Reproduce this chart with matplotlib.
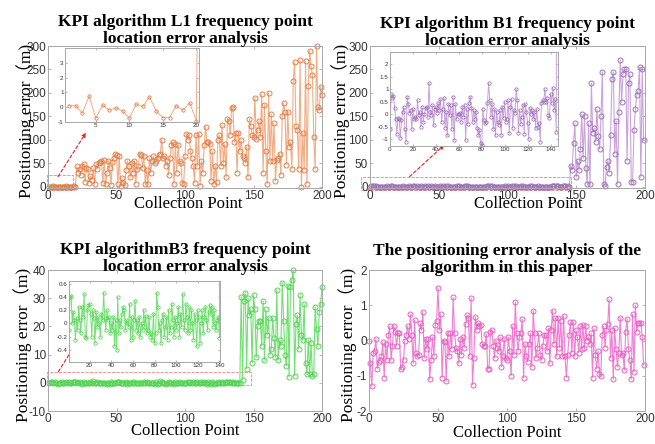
import numpy as np
import matplotlib
matplotlib.use('Agg')
import matplotlib.pyplot as plt
from matplotlib.ticker import FormatStrFormatter
from matplotlib.patches import Rectangle

# ---- L1 (points 1..200): first 20 small, rest large
L1_small = [0.1, 0.1, -0.4, 0.75, -0.75, 0.15, -0.2, -0.05, -0.25, -0.75,
            0.2, 0.05, 0.7, -0.25, -0.7, -0.7, 0.1, -0.2, 0.3, -0.9]
L1_large = [43, 30, 38, 25, 45, 48, 10, 40, 37, 8,
            22, 15, 40, 5, 48, 38, 50, 52, 55, 8,
            57, 6, 28, 55, 40, 3, 52, 60, 70, 67,
            5, 65, 2, 18, 8, 4, 35, 55, 45, 20,
            50, 30, 55, 6, 38, 45, 70, 68, 40, 66,
            5, 35, 5, 60, 30, 55, 65, 50, 55, 62,
            67, 70, 100, 60, 65, 45, 55, 25, 60, 88,
            95, 5, 90, 30, 88, 55, 50, 8, 5, 65,
            113, 100, 110, 75, 60, 45, 8, 110, 45, 112,
            2, 55, 30, 88, 128, 95, 96, 90, 12, 75,
            5, 45, 10, 100, 110, 45, 132, 50, 90, 20,
            145, 140, 110, 168, 170, 95, 115, 30, 115, 75,
            100, 65, 60, 50, 85, 20, 145, 130, 110, 105,
            190, 102, 120, 140, 105, 197, 30, 175, 75, 5,
            200, 55, 155, 55, 135, 12, 57, 60, 70, 25,
            150, 178, 160, 47, 160, 85, 95, 37, 225, 265,
            130, 120, 38, 270, 0, 115, 35, 267, 5, 215,
            290, 257, 238, 105, 37, 300, 170, 163, 213, 195]

# ---- B1 (points 0..199): first 146 small, rest large
B1_small = [-0.6, 0.8, 0.65, 0.75, 0.25, -0.2, -0.8, -0.15, -0.2, -0.95,
            -0.25, 0.1, 0.3, -0.6, -1.1, 0.7, 0.4, 0.05, 0.15, -0.6,
            0.2, -0.2, -0.1, -0.2, 0.55, -0.05, 0.1, -0.5, 0.3, -0.3,
            0.0, 0.25, 0.3, -0.1, 1.25, 0.1, -0.05, 0.35, -0.45, 0.2,
            0.3, 0.05, 0.45, 0.15, 0.6, -0.3, 0.2, 0.65, -0.55, 0.1,
            -0.85, 0.4, -0.05, 0.35, -0.6, 0.7, -1.05, 0.4, -0.2, 0.0,
            0.0, 0.05, -0.3, 0.3, -0.1, 0.35, -1.05, 0.2, -0.4, 0.45,
            0.7, 0.25, -0.3, 0.15, -0.2, 0.1, -0.55, -0.85, -0.65, -1.15,
            -1.25, 0.2, -0.25, -0.35, -0.3, 0.45, 1.25, 0.55, -0.1, 0.4,
            -0.6, 0.2, -0.85, 0.1, -0.3, -0.45, 0.15, -0.85, 0.3, -0.15,
            0.5, -0.3, -0.2, 0.55, -0.75, 0.3, 0.6, -0.55, 0.15, 0.05,
            1.0, 0.55, -0.75, 0.15, -0.4, -0.1, 0.35, -0.8, 0.4, 0.1,
            -0.35, -1.0, 0.25, 0.0, 0.15, -0.2, 0.1, -0.55, 0.2, -0.5,
            -0.35, -1.1, 0.45, 0.55, 0.5, 1.0, 0.5, 0.65, -0.05, -0.15,
            0.8, 0.45, 1.05, 0.15, 0.6, -0.7]
B1_large = [45, 35, 92, 135, 20, 55, 35, 80, 155, 60,
            150, 40, 5, 135, 5, 220, 115, 125, 95, 165,
            108, 80, 150, 245, 5, 2, 42, 55, 30, 110,
            230, 245, 70, 140, 5, 160, 270, 180, 240, 250,
            250, 55, 220, 240, 10, 10, 120, 165, 195, 205,
            255, 20, 250, 100]

# ---- B3 (points 1..200): first 140 small, rest large
B3_small = [-0.1, 0.4, 0.42, 0.0, 0.18, 0.05, -0.25, 0.08, -0.1, 0.25,
            0.05, -0.15, 0.25, 0.1, 0.45, -0.2, -0.22, 0.2, 0.28, 0.3,
            0.15, -0.2, 0.2, 0.08, -0.3, 0.18, -0.05, 0.1, 0.0, -0.2,
            0.15, 0.05, 0.47, 0.08, -0.1, 0.2, 0.05, 0.1, -0.15, 0.0,
            -0.1, 0.1, -0.35, 0.05, -0.4, 0.4, -0.15, 0.05, -0.05, 0.15,
            0.25, 0.2, -0.1, 0.05, 0.0, -0.05, 0.3, -0.25, 0.1, -0.2,
            0.05, 0.35, -0.1, 0.05, -0.15, 0.1, -0.2, 0.0, -0.1, 0.2,
            -0.05, 0.12, -0.15, -0.1, 0.1, -0.2, -0.15, -0.25, 0.15, -0.3,
            -0.15, 0.47, 0.25, -0.1, 0.0, -0.3, 0.05, 0.15, -0.2, -0.05,
            0.1, -0.25, 0.2, -0.15, -0.05, 0.3, 0.05, -0.2, 0.1, -0.1,
            0.0, 0.25, -0.2, 0.15, -0.05, 0.45, 0.05, -0.1, 0.3, 0.1,
            -0.15, 0.25, -0.1, 0.2, 0.0, -0.25, 0.15, 0.05, -0.35, 0.2,
            0.1, -0.3, 0.0, 0.2, -0.15, 0.1, 0.25, 0.05, -0.1, 0.18,
            0.28, 0.15, 0.25, -0.05, 0.2, 0.0, -0.1, 0.05, 0.1, -0.22]
B3_large = [30.5, 1, 29, 32, 5, 30, 24, 26, 7, 31,
            26, 9, 20, 22, 22, 13, 29, 8, 26, 17,
            23, 10, 12, 23, 16, 9, 33, 8, 15, 13,
            35.5, 22, 10, 6, 34.5, 2, 34, 36.5, 40, 2.5,
            21, 24, 12, 31, 17, 15, 28, 7, 3, 15,
            3, 14, 2.5, 3, 27, 19, 13, 25, 28, 34]

# ---- proposed algorithm (points 0..199)
paper = [0.0, -0.65, -1.3, -0.35, -0.3, 0.05, -0.8, -0.6, -0.55, -0.45,
         -0.05, -1.05, -0.1, -0.55, 0.15, 0.4, -0.55, -0.15, 0.42, 0.25,
         -0.15, 0.2, 0.2, -0.8, -0.75, -0.55, 0.0, 0.15, 0.4, 0.05,
         0.75, 0.15, -0.65, 0.58, -0.35, -0.45, -0.4, 0.5, 0.3, 0.82,
         -0.5, 0.05, -0.25, 0.05, -1.1, -0.55, 0.1, -0.45, 0.45, 0.55,
         1.5, 0.3, 0.75, -1.05, 0.0, -0.05, -1.15, 0.2, -0.45, 0.2,
         -0.25, 1.22, 0.22, -0.2, -0.3, -0.65, 0.05, -0.4, 0.1, -0.2,
         0.48, 0.72, 0.65, -0.45, 1.2, -1.25, -0.5, 0.68, 0.3, 0.5,
         0.4, 0.45, -0.1, -0.15, -0.15, 0.18, -0.8, -0.8, 0.25, 0.3,
         -0.15, -0.5, 0.0, -0.2, -0.3, 0.1, -0.75, -0.45, 0.05, -0.5,
         -0.55, 0.1, -0.3, -1.0, 0.4, -0.4, 1.1, 0.22, -0.3, 0.1,
         0.2, 0.6, -1.05, -0.1, -0.45, -0.6, -0.1, 0.2, -0.75, 0.85,
         0.2, -0.5, -0.2, 0.2, -0.4, -0.55, -0.15, 0.15, 0.15, -0.3,
         0.35, -0.65, 0.3, 0.85, -0.1, 0.65, -0.45, 0.65, -0.2, 0.55,
         -0.45, 0.7, -0.45, -1.05, -0.4, 0.15, 0.52, -0.35, 0.52, -0.45,
         0.3, 0.1, -0.35, 0.4, -0.25, 0.45, -0.2, 0.4, 0.0, 0.1,
         -0.1, 0.2, -1.05, 0.35, -0.4, -0.8, -0.3, -0.95, -1.0, 0.15,
         0.4, -0.2, 0.3, 0.48, 1.18, -0.5, 0.3, -1.1, 0.35, -0.25,
         -0.75, -0.35, 0.65, -0.4, -0.35, -0.85, 0.25, 0.62, -0.25, -0.55,
         -1.1, 0.75, -0.9, 1.0, 0.25, 0.5, 0.5, 0.5, 0.1, -0.7]

L1 = L1_small + L1_large
B1 = B1_small + B1_large
B3 = B3_small + B3_large
x_L1 = np.arange(1, len(L1) + 1)
x_B1 = np.arange(0, len(B1))
x_B3 = np.arange(1, len(B3) + 1)
x_paper = np.arange(0, len(paper))

SERIF = ['Liberation Serif', 'Noto Sans CJK SC']
plt.rcParams['font.family'] = ['Liberation Sans', 'DejaVu Sans']
W, H = 655, 444


def px(l, t, r, b):
    return [l / W, 1 - b / H, (r - l) / W, (b - t) / H]


def style(ax, size):
    for s in ax.spines.values():
        s.set_color('#a8a8a8')
        s.set_linewidth(0.7)
    ax.tick_params(direction='in', top=True, right=True, labelsize=size,
                   colors='#a8a8a8', labelcolor='#333333', length=2.5, width=0.6, pad=1.5)
    ax.xaxis.set_major_formatter(FormatStrFormatter('%g'))
    ax.yaxis.set_major_formatter(FormatStrFormatter('%g'))


def main_panel(fig, pos, x, y, lc, mc, title, pad, ylim, yticks, ylab_x, xlab_x, xlab_y):
    ax = fig.add_axes(px(*pos))
    ax.plot(x, y, '-', color=lc, lw=0.8)
    ax.plot(x, y, 'o', ms=3.6, mfc='none', mec=mc, mew=0.7, clip_on=False)
    ax.set_xlim(0, 200)
    ax.set_ylim(*ylim)
    ax.set_xticks([0, 50, 100, 150, 200])
    ax.set_yticks(yticks)
    style(ax, 8.5)
    ax.set_title(title, fontsize=12.5, fontweight='bold', family=SERIF, pad=pad, linespacing=1.12)
    ax.set_xlabel('Collection Point', fontsize=12, family=SERIF)
    ax.set_ylabel('Positioning error（m)', fontsize=12.5, family=SERIF)
    ax.yaxis.set_label_coords(ylab_x, 0.47)
    ax.xaxis.set_label_coords(xlab_x, xlab_y)
    return ax


def inset_panel(fig, pos, x, y, lc, mc, xlim, ylim, xticks, yticks):
    ax = fig.add_axes(px(*pos))
    ax.set_facecolor('white')
    ax.plot(x, y, '-', color=lc, lw=0.7)
    ax.plot(x, y, 'o', ms=2.4, mfc='none', mec=mc, mew=0.6)
    ax.set_xlim(*xlim)
    ax.set_ylim(*ylim)
    ax.set_xticks(xticks)
    ax.set_yticks(yticks)
    style(ax, 4.5)
    ax.tick_params(length=1.5, pad=1)
    return ax


def zoom_mark(ax, rect, start, end):
    ax.add_patch(Rectangle((rect[0], rect[1]), rect[2] - rect[0], rect[3] - rect[1],
                           fill=False, ec='#ee7f7f', ls='--', lw=0.6, clip_on=False))
    ax.annotate('', xy=end, xytext=start,
                arrowprops=dict(arrowstyle='-|>', color='#e82020', lw=0.8, ls=(0, (3, 2)),
                                shrinkA=0, shrinkB=0, mutation_scale=6))


fig = plt.figure(figsize=(6.55, 4.44), dpi=100)

# top left: L1
c_l1 = ('#f2ad85', '#e0804c')
ax1 = main_panel(fig, (48, 46, 322, 188), x_L1, L1, *c_l1,
                 'KPI algorithm L1 frequency point\nlocation error analysis', 2,
                 (-3, 300), [0, 50, 100, 150, 200, 250, 300], -0.047, 0.512, -0.056)
zoom_mark(ax1, (-0.7, -8, 18.2, 25), (7.3, 21), (27.7, 115))
inset_panel(fig, (65, 48, 199, 122), x_L1, L1, *c_l1,
            (0.4, 20.4), (-1, 4), [5, 10, 15, 20], [-1, 0, 1, 2, 3])

# top right: B1
c_b1 = ('#c9a3da', '#a272bb')
ax2 = main_panel(fig, (370, 46, 645, 188), x_B1, B1, *c_b1,
                 'KPI algorithm B1 frequency point\nlocation error analysis', 0.5,
                 (-3, 300), [0, 50, 100, 150, 200, 250, 300], -0.073, 0.576, -0.056)
zoom_mark(ax2, (-6.5, -7, 146.5, 20), (28.7, 21), (54, 89))
inset_panel(fig, (390, 52, 558, 146), x_B1, B1, *c_b1,
            (0, 146.5), (-1.28, 2.5), [0, 20, 40, 60, 80, 100, 120, 140],
            [-1, -0.5, 0, 0.5, 1, 1.5, 2])

# bottom left: B3
c_b3 = ('#72e072', '#55d455')
ax3 = main_panel(fig, (48, 270, 322, 411), x_B3, B3, *c_b3,
                 'KPI algorithmB3 frequency point\nlocation error analysis', -1,
                 (-10, 40), [-10, 0, 10, 20, 30, 40], -0.058, 0.5, -0.085)
zoom_mark(ax3, (-0.5, -0.9, 148, 3.9), (7.5, 3.9), (27, 19))
inset_panel(fig, (69, 281, 220, 362), x_B3, B3, *c_b3,
            (1, 140.5), (-0.59, 0.65), [20, 40, 60, 80, 100, 120, 140],
            [-0.4, -0.2, 0, 0.2, 0.4, 0.6])

# bottom right: proposed algorithm
main_panel(fig, (369, 270, 645, 411), x_paper, paper, '#f27fd3', '#e462c2',
           'The positioning error analysis of the\nalgorithm in this paper', -1.5,
           (-2, 2), [-2, -1, 0, 1, 2], -0.043, 0.502, -0.099)

fig.savefig('out.png', dpi=100)
